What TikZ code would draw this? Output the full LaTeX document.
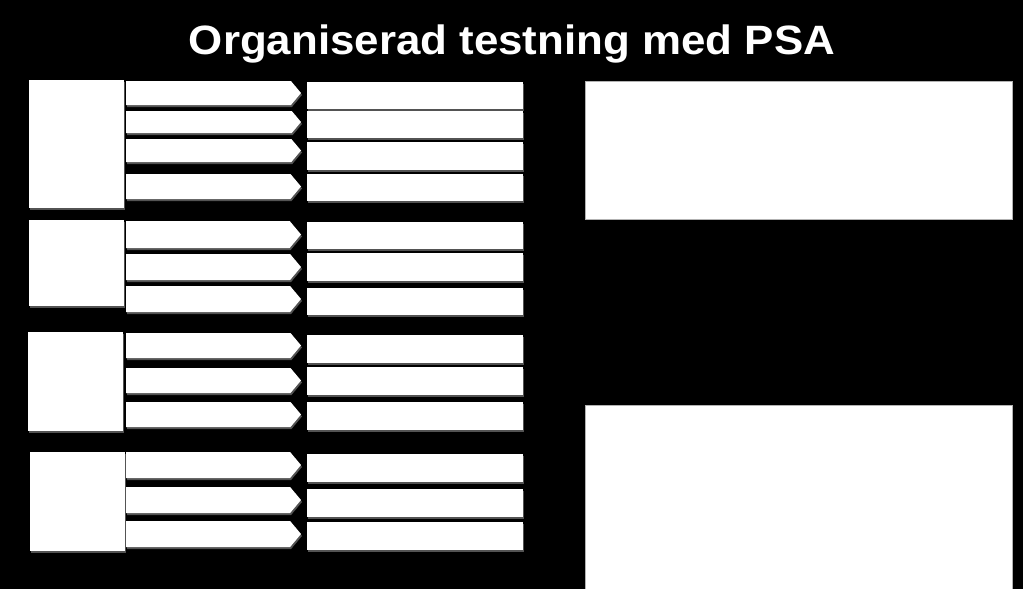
\documentclass[tikz,border=0pt]{standalone}
\usepackage{fontspec}
\setmainfont{Liberation Sans}
\usetikzlibrary{shapes.symbols,shadows}

\begin{document}
\begin{tikzpicture}[x=1pt, y=-1pt,
		box/.style={fill=white, inner sep=0pt, outer sep=0pt, anchor=north west,
			drop shadow={shadow xshift=1pt, shadow yshift=-2pt, fill=gray!70}},
		group/.style={box, minimum width=95pt},
		pointer/.style={box, shape=signal, signal to=east, signal pointer angle=100, minimum width=175pt},
		field/.style={box, minimum width=216pt},
		panel/.style={fill=white, draw=gray!60, line width=0.6pt, inner sep=0pt, anchor=north west, minimum width=427pt}
	]
		\fill[black] (0,0) rectangle (1023,589);
		\useasboundingbox (0,0) rectangle (1023,589);

		\node[anchor=base, text=white, font=\fontsize{41}{48}\selectfont\bfseries, xscale=1.07] (title) at (512,54.5) {Organiserad testning med PSA};

		% group boxes
		\node[group, minimum height=128pt] (grpA) at (29,80) {};
		\node[group, minimum height=86pt] (grpB) at (29,220) {};
		\node[group, minimum height=99pt] (grpC) at (28,332) {};
		\node[group, minimum height=99pt] (grpD) at (30,452) {};

		% pointers
		\node[pointer, minimum height=24pt] (pA1) at (126,81) {};
		\node[pointer, minimum height=22pt] (pA2) at (126,111) {};
		\node[pointer, minimum height=23pt] (pA3) at (126,139) {};
		\node[pointer, minimum height=25pt] (pA4) at (126,174) {};
		\node[pointer, minimum height=27pt] (pB1) at (126,221) {};
		\node[pointer, minimum height=26pt] (pB2) at (126,254) {};
		\node[pointer, minimum height=26pt] (pB3) at (126,286) {};
		\node[pointer, minimum height=25pt] (pC1) at (126,333) {};
		\node[pointer, minimum height=25pt] (pC2) at (126,368) {};
		\node[pointer, minimum height=25pt] (pC3) at (126,402) {};
		\node[pointer, minimum height=26pt] (pD1) at (126,452) {};
		\node[pointer, minimum height=26pt] (pD2) at (126,487) {};
		\node[pointer, minimum height=26pt] (pD3) at (126,521) {};

		% fields
		\node[field, minimum height=27pt] (fA1) at (307,82) {};
		\node[field, minimum height=27pt] (fA2) at (307,111) {};
		\node[field, minimum height=28pt] (fA3) at (307,142) {};
		\node[field, minimum height=27pt] (fA4) at (307,174) {};
		\node[field, minimum height=27pt] (fB1) at (307,222) {};
		\node[field, minimum height=28pt] (fB2) at (307,253) {};
		\node[field, minimum height=27pt] (fB3) at (307,288) {};
		\node[field, minimum height=28pt] (fC1) at (307,335) {};
		\node[field, minimum height=28pt] (fC2) at (307,367) {};
		\node[field, minimum height=28pt] (fC3) at (307,402) {};
		\node[field, minimum height=28pt] (fD1) at (307,454) {};
		\node[field, minimum height=28pt] (fD2) at (307,489) {};
		\node[field, minimum height=28pt] (fD3) at (307,522) {};

		% panels
		\node[panel, minimum height=138pt] (upper) at (585,81) {};
		\node[panel, minimum height=190pt] (lower) at (585,405) {};
	\end{tikzpicture}
\end{document}
